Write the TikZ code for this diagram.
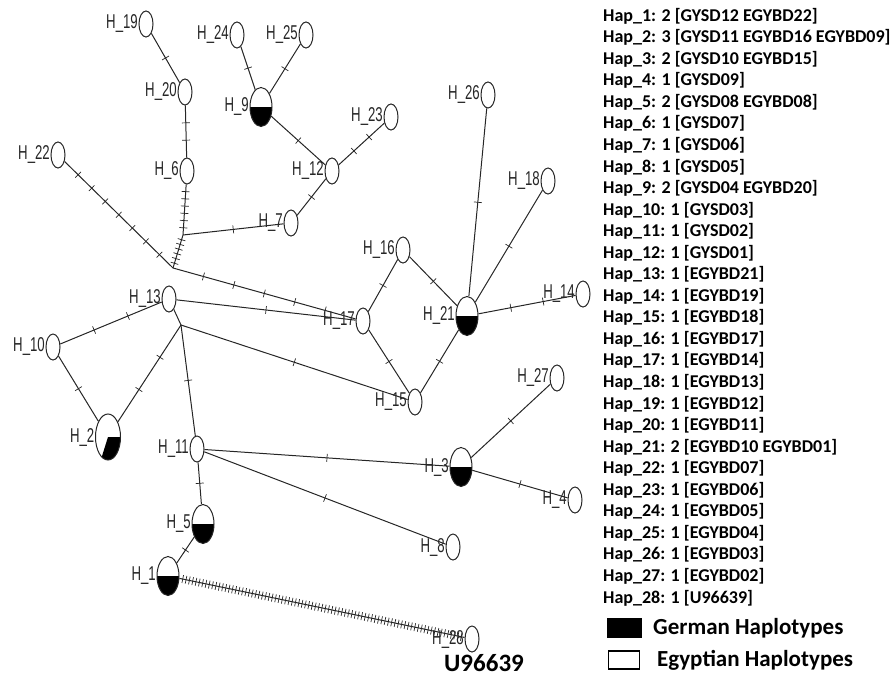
\documentclass[tikz,border=0pt]{standalone}
\usepackage{fontspec}
\usetikzlibrary{shapes.geometric,calc}
\newfontfamily\labfont{Liberation Sans}[FakeStretch=0.66]
\newfontfamily\legfont{Carlito}
\tikzset{
  hap/.style={ellipse, draw=black!85, line width=1pt, inner sep=0pt, fill=white,
    minimum width=14pt, minimum height=26pt},
  big/.style={minimum width=22pt, minimum height=39pt},
  half/.style={path picture={\fill[black] (path picture bounding box.west) rectangle (path picture bounding box.south east);}},
  lab/.style={font=\labfont\fontsize{20}{20}\selectfont, inner sep=0.5pt, text=black!85},
  edge/.style={draw=black!85, line width=1pt},
  tickmark/.style={draw=black!85, line width=0.7pt, inner sep=0pt, minimum width=0pt, minimum height=8pt, sloped, fill=none},
  legtext/.style={font=\legfont\bfseries\fontsize{18}{18}\selectfont, anchor=west, inner sep=0pt},
  legbig/.style={font=\legfont\bfseries\fontsize{23}{23}\selectfont, anchor=west, inner sep=0pt}
}
\newcommand\medge[3]{\draw[edge] (#1) -- (#2) foreach \k [evaluate=\k as \p using \k/(#3+1)] in {1,...,#3} {node[tickmark, pos=\p]{}};}
\begin{document}
\begin{tikzpicture}[x=1pt,y=-1pt]
\useasboundingbox (0,0) rectangle (894,677);
% haplotype nodes
\node[hap, label={[lab]west:H\_19}] (h19) at (146,24) {};
\node[hap, label={[lab]west:H\_24}] (h24) at (237,35) {};
\node[hap, label={[lab]west:H\_25}] (h25) at (306,35) {};
\node[hap, label={[lab]west:H\_20}] (h20) at (185,92) {};
\node[hap, big, half, label={[lab]west:H\_9}] (h9) at (261,107) {};
\node[hap, label={[lab]west:H\_22}] (h22) at (58,155) {};
\node[hap, label={[lab]west:H\_6}] (h6) at (187,171) {};
\node[hap, label={[lab]west:H\_12}] (h12) at (332,171) {};
\node[hap, label={[lab]west:H\_23}] (h23) at (391,117) {};
\node[hap, label={[lab]west:H\_7}] (h7) at (291,223) {};
\node[hap, label={[lab]west:H\_26}] (h26) at (488,95) {};
\node[hap, label={[lab]west:H\_18}] (h18) at (548,181) {};
\node[hap, label={[lab]west:H\_16}] (h16) at (403,250) {};
\node[hap, label={[lab]west:H\_14}] (h14) at (583,294) {};
\node[hap, big, half, label={[lab]west:H\_21}] (h21) at (467,316) {};
\node[hap, label={[lab]west:H\_17}] (h17) at (363,321) {};
\node[hap, label={[lab]west:H\_15}] (h15) at (415,402) {};
\node[hap, label={[lab]west:H\_27}] (h27) at (557,378) {};
\node[hap, label={[lab]west:H\_13}] (h13) at (169,299) {};
\node[hap, label={[lab]west:H\_10}] (h10) at (53,347) {};
\node[hap, minimum width=25pt, minimum height=46pt,
  path picture={\fill[black] (path picture bounding box.center) -- ++(30,0) -- ++(0,50) -- ($(path picture bounding box.center)+(-13.75,43.8)$) -- cycle;},
  label={[lab]west:H\_2}] (h2) at (108,437) {};
\node[hap, label={[lab]west:H\_11}] (h11) at (197,449) {};
\node[hap, big, half, label={[lab]west:H\_3}] (h3) at (461,467) {};
\node[hap, label={[lab]west:H\_4}] (h4) at (575,500) {};
\node[hap, big, half, label={[lab]west:H\_5}] (h5) at (203,524) {};
\node[hap, label={[lab]west:H\_8}] (h8) at (453,547) {};
\node[hap, big, half, label={[lab]west:H\_1}] (h1) at (168,576) {};
\node[hap, label={[lab]west:H\_28}] (h28) at (472,639) {};
% junction points
\coordinate (j1) at (183,235);
\coordinate (j2) at (173,268);
\coordinate (j3) at (181,325);
% connectors with mutation ticks
\medge{h19}{h20}{1}
\medge{h20}{h6}{2}
\medge{h24}{h9}{1}
\medge{h25}{h9}{1}
\medge{h9}{h12}{1}
\medge{h12}{h23}{2}
\medge{h7}{h12}{1}
\medge{h6}{j1}{6}
\medge{j1}{j2}{6}
\medge{j1}{h7}{1}
\medge{h22}{j2}{7}
\medge{j2}{h17}{5}
\medge{h13}{h17}{1}
\medge{h10}{h13}{2}
\medge{h10}{h2}{1}
\draw[edge] (h13) -- (j3);
\medge{j3}{h2}{2}
\medge{j3}{h11}{1}
\medge{j3}{h15}{1}
\medge{h11}{h5}{1}
\medge{h5}{h1}{1}
\medge{h11}{h3}{1}
\medge{h11}{h8}{1}
\medge{h1}{h28}{85}
\medge{h3}{h27}{1}
\medge{h3}{h4}{1}
\medge{h17}{h16}{1}
\medge{h16}{h21}{1}
\medge{h17}{h15}{1}
\medge{h15}{h21}{1}
\medge{h21}{h26}{1}
\medge{h21}{h18}{1}
\medge{h21}{h14}{2}
% outgroup label
\node[font=\legfont\bfseries\fontsize{25}{25}\selectfont, inner sep=0pt] (u96) at (484,663) {U96639};
% haplotype list
\node[legtext] (l1) at (603,16) {Hap\_1: 2 [GYSD12 EGYBD22]};
\node[legtext] (l2) at (603,37.55) {Hap\_2: 3 [GYSD11 EGYBD16 EGYBD09]};
\node[legtext] (l3) at (603,59.1) {Hap\_3: 2 [GYSD10 EGYBD15]};
\node[legtext] (l4) at (603,80.65) {Hap\_4: 1 [GYSD09]};
\node[legtext] (l5) at (603,102.2) {Hap\_5: 2 [GYSD08 EGYBD08]};
\node[legtext] (l6) at (603,123.75) {Hap\_6: 1 [GYSD07]};
\node[legtext] (l7) at (603,145.3) {Hap\_7: 1 [GYSD06]};
\node[legtext] (l8) at (603,166.85) {Hap\_8: 1 [GYSD05]};
\node[legtext] (l9) at (603,188.4) {Hap\_9: 2 [GYSD04 EGYBD20]};
\node[legtext] (l10) at (603,209.95) {Hap\_10: 1 [GYSD03]};
\node[legtext] (l11) at (603,231.5) {Hap\_11: 1 [GYSD02]};
\node[legtext] (l12) at (603,253.05) {Hap\_12: 1 [GYSD01]};
\node[legtext] (l13) at (603,274.6) {Hap\_13: 1 [EGYBD21]};
\node[legtext] (l14) at (603,296.15) {Hap\_14: 1 [EGYBD19]};
\node[legtext] (l15) at (603,317.7) {Hap\_15: 1 [EGYBD18]};
\node[legtext] (l16) at (603,339.25) {Hap\_16: 1 [EGYBD17]};
\node[legtext] (l17) at (603,360.8) {Hap\_17: 1 [EGYBD14]};
\node[legtext] (l18) at (603,382.35) {Hap\_18: 1 [EGYBD13]};
\node[legtext] (l19) at (603,403.9) {Hap\_19: 1 [EGYBD12]};
\node[legtext] (l20) at (603,425.45) {Hap\_20: 1 [EGYBD11]};
\node[legtext] (l21) at (603,447) {Hap\_21: 2 [EGYBD10 EGYBD01]};
\node[legtext] (l22) at (603,468.55) {Hap\_22: 1 [EGYBD07]};
\node[legtext] (l23) at (603,490.1) {Hap\_23: 1 [EGYBD06]};
\node[legtext] (l24) at (603,511.65) {Hap\_24: 1 [EGYBD05]};
\node[legtext] (l25) at (603,533.2) {Hap\_25: 1 [EGYBD04]};
\node[legtext] (l26) at (603,554.75) {Hap\_26: 1 [EGYBD03]};
\node[legtext] (l27) at (603,576.3) {Hap\_27: 1 [EGYBD02]};
\node[legtext] (l28) at (603,597.85) {Hap\_28: 1 [U96639]};
% colour key
\node[draw=black, fill=black, minimum width=34pt, minimum height=19pt, inner sep=0pt] (kg) at (624,628) {};
\node[legbig] (tg) at (653,628) {German Haplotypes};
\node[draw=black, line width=1.8pt, fill=white, minimum width=31pt, minimum height=18pt, inner sep=0pt] (ke) at (624,660) {};
\node[legbig] (te) at (657,660) {Egyptian Haplotypes};
\end{tikzpicture}
\end{document}
